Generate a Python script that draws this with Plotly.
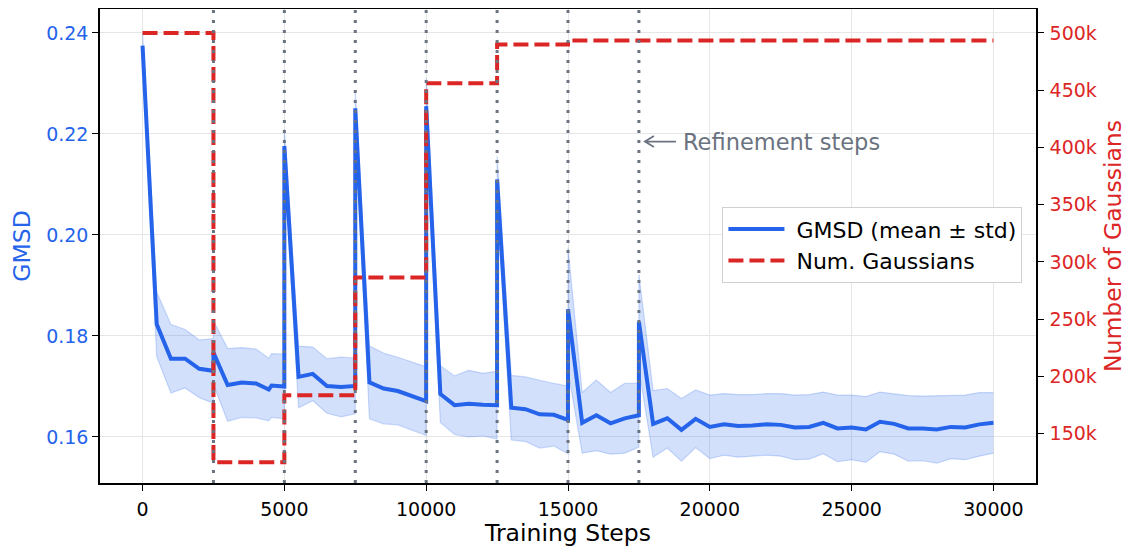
import plotly.graph_objects as go

# ---------------- data ----------------
steps = [0, 500, 1000, 1500, 2000, 2499, 2500, 3000, 3500, 4000, 4450, 4550, 4999,
         5000, 5500, 6000, 6500, 7000, 7499, 7500, 8000, 8500, 9000, 9500, 9999,
         10000, 10500, 11000, 11500, 12000, 12499, 12500, 13000, 13500, 14000, 14500, 14999,
         15000, 15500, 16000, 16500, 17000, 17499, 17500, 18000, 18500, 19000, 19500,
         20000, 20500, 21000, 21500, 22000, 22500, 23000, 23500, 24000, 24500, 25000,
         25500, 26000, 26500, 27000, 27500, 28000, 28500, 29000, 29500, 30000]

gmsd_mean = [0.2375, 0.1823, 0.1755, 0.1755, 0.1735, 0.1731, 0.1767, 0.1703, 0.1708, 0.1706, 0.1694, 0.1702, 0.1700,
             0.2176, 0.1719, 0.1725, 0.1701, 0.1699, 0.1701, 0.2251, 0.1708, 0.1696, 0.1691, 0.1681, 0.1671,
             0.2255, 0.1685, 0.1663, 0.1666, 0.1664, 0.1663, 0.2110, 0.1658, 0.1655, 0.1645, 0.1644, 0.1634,
             0.1853, 0.1628, 0.1643, 0.1627, 0.1637, 0.1643, 0.1828, 0.1626, 0.1637, 0.1614, 0.1636,
             0.1620, 0.1625, 0.1622, 0.1623, 0.1625, 0.1624, 0.1619, 0.1620, 0.1628, 0.1617, 0.1619,
             0.1615, 0.1630, 0.1626, 0.1617, 0.1617, 0.1615, 0.1620, 0.1619, 0.1625, 0.1628]

gmsd_std = [0.0025, 0.0064, 0.0068, 0.0058, 0.0057, 0.0064, 0.0063, 0.0072, 0.0069, 0.0068, 0.0062, 0.0063, 0.0064,
            0.0034, 0.0061, 0.0053, 0.0054, 0.0059, 0.0055, 0.0034, 0.0072, 0.0070, 0.0067, 0.0068, 0.0068,
            0.0056, 0.0056, 0.0058, 0.0066, 0.0062, 0.0067, 0.0046, 0.0064, 0.0064, 0.0067, 0.0062, 0.0067,
            0.0122, 0.0060, 0.0070, 0.0061, 0.0069, 0.0063, 0.0094, 0.0066, 0.0059, 0.0062, 0.0057,
            0.0063, 0.0061, 0.0062, 0.0061, 0.0061, 0.0062, 0.0064, 0.0064, 0.0061, 0.0066, 0.0064,
            0.0065, 0.0059, 0.0060, 0.0065, 0.0064, 0.0067, 0.0063, 0.0064, 0.0063, 0.0060]

gauss_steps = [0, 2500, 5000, 7500, 10000, 12500, 15000, 30000]
gauss_counts = [500000, 125000, 183500, 286500, 456000, 490000, 493500, 493500]

refine_steps = [2500, 5000, 7500, 10000, 12500, 15000, 17500]

x_ticks = [0, 5000, 10000, 15000, 20000, 25000, 30000]
left_ticks = [0.16, 0.18, 0.20, 0.22, 0.24]
right_ticks = [150000, 200000, 250000, 300000, 350000, 400000, 450000, 500000]
right_labels = ["150k", "200k", "250k", "300k", "350k", "400k", "450k", "500k"]

annot_step = 17500
annot_value = 0.2185

# ---------------- styling ----------------
BLUE = "#2563eb"
RED = "#dc2626"
GREY = "#6b7280"
FONT = "DejaVu Sans"

upper = [m + s for m, s in zip(gmsd_mean, gmsd_std)]
lower = [m - s for m, s in zip(gmsd_mean, gmsd_std)]

fig = go.Figure()
fig.add_trace(go.Scatter(x=steps, y=upper, mode="lines",
                         line=dict(color="rgba(37,99,235,0.22)", width=1.2),
                         showlegend=False, hoverinfo="skip"))
fig.add_trace(go.Scatter(x=steps, y=lower, mode="lines",
                         line=dict(color="rgba(37,99,235,0.22)", width=1.2),
                         fill="tonexty", fillcolor="rgba(37,99,235,0.2)",
                         showlegend=False, hoverinfo="skip"))
fig.add_trace(go.Scatter(x=steps, y=gmsd_mean, mode="lines",
                         line=dict(color=BLUE, width=4),
                         name="\u00a0GMSD (mean ± std)"))
fig.add_trace(go.Scatter(x=gauss_steps, y=gauss_counts, mode="lines",
                         line=dict(color=RED, width=4, dash="15px,6px", shape="hv"),
                         name="\u00a0Num. Gaussians", yaxis="y2"))

for s in refine_steps:
    fig.add_shape(type="line", x0=s, x1=s, y0=0, y1=1, xref="x", yref="paper",
                  line=dict(color=GREY, width=3, dash="3px,7px"), layer="above")

# open-headed arrow pointing at the refinement line
fig.add_shape(type="path", xref="x", yref="y", xsizemode="pixel", ysizemode="pixel",
              xanchor=annot_step, yanchor=annot_value,
              path="M 6,0 L 37,0 M 15,5.5 L 6,0 L 15,-5.5",
              line=dict(color=GREY, width=1.8), layer="above")
fig.add_annotation(x=annot_step, y=annot_value, xref="x", yref="y",
                   text="Refinement steps", showarrow=False,
                   xanchor="left", yanchor="middle", xshift=42,
                   font=dict(family=FONT, size=22.5, color=GREY))

fig.update_layout(
    width=1130, height=539,
    margin=dict(l=92, r=102, t=1, b=64, autoexpand=False),
    paper_bgcolor="white", plot_bgcolor="white",
    font=dict(family=FONT, size=19, color="black"),
    showlegend=True,
    legend=dict(x=0.665, y=0.582, xanchor="left", yanchor="top",
                traceorder="normal",
                bgcolor="white", bordercolor="#d0d0d0", borderwidth=1,
                font=dict(family=FONT, size=22, color="black"),
                itemwidth=56),
    xaxis=dict(range=[-1500, 31500], tickvals=x_ticks, ticktext=[str(v) for v in x_ticks],
               showgrid=True, gridcolor="#e6e6e6", gridwidth=1,
               showline=True, linecolor="black", linewidth=1.5, mirror=True,
               ticks="outside", ticklen=6, tickcolor="black", zeroline=False,
               ticklabelstandoff=2, automargin=False,
               tickfont=dict(family=FONT, size=19, color="black"),
               title=dict(text="Training Steps", font=dict(family=FONT, size=23.5, color="black"),
                          standoff=14)),
    yaxis=dict(range=[0.15089, 0.24475], tickvals=left_ticks,
               ticktext=["%.2f" % v for v in left_ticks],
               showgrid=True, gridcolor="#e6e6e6", gridwidth=1,
               showline=True, linecolor="black", linewidth=1.5,
               ticks="outside", ticklen=6, tickcolor="black", zeroline=False,
               automargin=False,
               tickfont=dict(family=FONT, size=19, color=BLUE),
               title=dict(text="GMSD", font=dict(family=FONT, size=23.5, color=BLUE),
                          standoff=26)),
    yaxis2=dict(range=[106900, 520960], overlaying="y", side="right",
                tickvals=right_ticks, ticktext=right_labels,
                showgrid=False, showline=True, linecolor="black", linewidth=1.5,
                ticks="outside", ticklen=6, tickcolor="black", zeroline=False,
                ticklabelstandoff=2, automargin=False,
                tickfont=dict(family=FONT, size=19, color=RED),
                title=dict(text="Number of Gaussians", font=dict(family=FONT, size=23.5, color=RED),
                           standoff=9)),
)

fig.write_html("out.html")
